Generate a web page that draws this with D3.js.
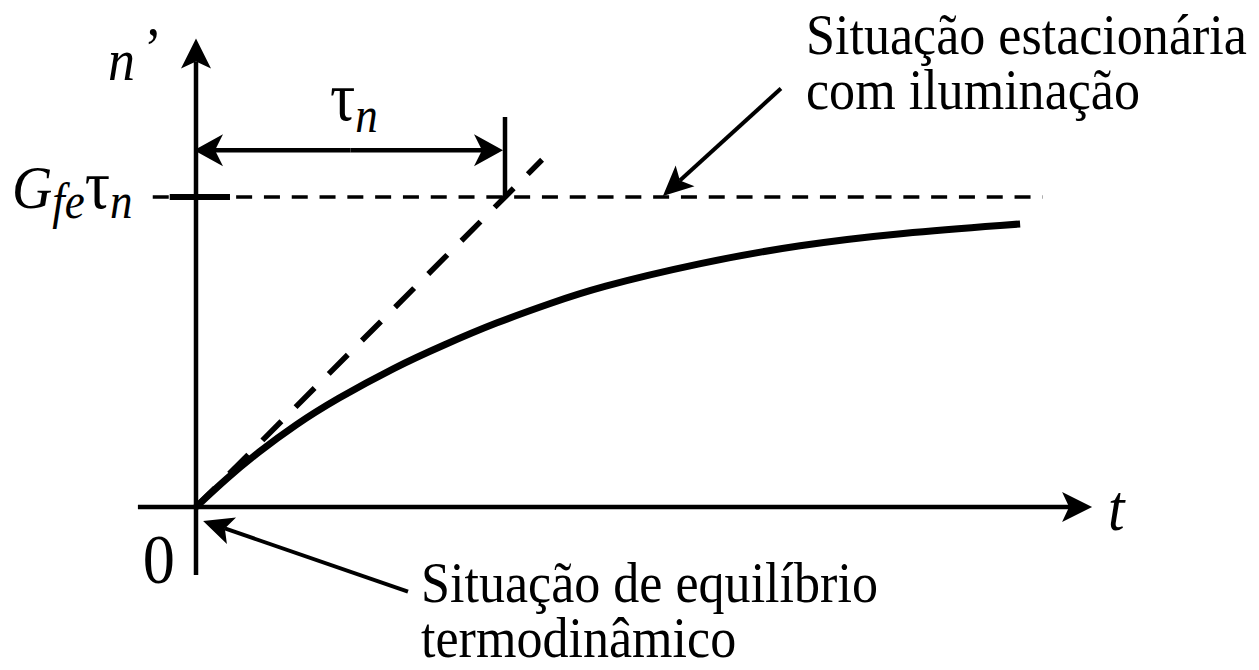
<!DOCTYPE html>
<html>
<head>
<meta charset="utf-8">
<script src="https://cdn.jsdelivr.net/npm/d3@7"></script>
<style>
  body { margin: 0; background: #fff; }
  svg { display: block; }
  text { font-family: "Liberation Serif", "Times New Roman", serif; fill: #000; }
</style>
</head>
<body>
<svg id="chart" width="1259" height="670"></svg>
<script>
// n'(t): excess carriers after the light is switched on.
// t is in units of τn, n' in units of Gfe·τn.
const curveT = [0, 0.1, 0.2, 0.324, 0.45, 0.647, 0.8, 0.971, 1.15, 1.294, 1.631, 1.955, 2.278, 2.667];
const curveN = [0, 0.093, 0.176, 0.267, 0.346, 0.453, 0.522, 0.595, 0.658, 0.707, 0.788, 0.846, 0.884, 0.913];

// initial slope (tangent at the origin)
const tangentT = [0, 1.12];
const tangentN = [0, 1.12];

// steady state level and the time constant
const steadyLevel = 1;
const steadyT = [-0.14, 2.74];
const tauValue = 1;

// axis extents
const tAxis = [-0.188, 2.9];
const nAxis = [-0.219, 1.511];

// labels
const yLabel = "n";
const xLabel = "t";
const originLabel = "0";
const noteSteady = ["Situação estacionária", "com iluminação"];
const noteEquilibrium = ["Situação de equilíbrio", "termodinâmico"];

const svg = d3.select("#chart");
svg.append("rect").attr("width", 1259).attr("height", 670).attr("fill", "#fff");

const x = d3.scaleLinear().domain([0, 1]).range([196, 505]);
const y = d3.scaleLinear().domain([0, 1]).range([507, 197]);

const g = svg.append("g");

// straight line ending in a filled, notched arrowhead
function arrow(x1, y1, x2, y2, w, len, half, notch) {
  const a = Math.atan2(y2 - y1, x2 - x1);
  const cut = len - notch;
  g.append("line")
    .attr("x1", x1).attr("y1", y1)
    .attr("x2", x2 - Math.cos(a) * cut).attr("y2", y2 - Math.sin(a) * cut)
    .attr("stroke", "#000").attr("stroke-width", w);
  const deg = a * 180 / Math.PI;
  g.append("path")
    .attr("d", `M0,0 L${-len},${-half} L${-len + notch},0 L${-len},${half} Z`)
    .attr("transform", `translate(${x2},${y2}) rotate(${deg})`)
    .attr("fill", "#000");
}

// axes
arrow(x(tAxis[0]), y(0), x(tAxis[1]), y(0), 4.5, 30, 15, 7);
arrow(x(0), y(nAxis[0]), x(0), y(nAxis[1]), 4.5, 30, 15, 7);

// steady-state dashed level
g.append("line")
  .attr("x1", x(steadyT[0])).attr("x2", x(steadyT[1]))
  .attr("y1", y(steadyLevel)).attr("y2", y(steadyLevel))
  .attr("stroke", "#000").attr("stroke-width", 3.5)
  .attr("stroke-dasharray", "16,11.8");

// level tick on the n' axis
g.append("line")
  .attr("x1", x(-0.085)).attr("x2", x(0.11))
  .attr("y1", y(steadyLevel)).attr("y2", y(steadyLevel))
  .attr("stroke", "#000").attr("stroke-width", 6);

// tangent at the origin
g.append("line")
  .attr("x1", x(tangentT[0])).attr("y1", y(tangentN[0]))
  .attr("x2", x(tangentT[1])).attr("y2", y(tangentN[1]))
  .attr("stroke", "#000").attr("stroke-width", 5.5)
  .attr("stroke-dasharray", "27,20");

// τn marker and dimension arrow
g.append("line")
  .attr("x1", x(tauValue)).attr("x2", x(tauValue))
  .attr("y1", y(1.258)).attr("y2", y(steadyLevel))
  .attr("stroke", "#000").attr("stroke-width", 4.5);
const dimY = y(1.151);
const mid = (x(0) + x(tauValue)) / 2;
arrow(mid, dimY, x(tauValue) - 2, dimY, 4.5, 29, 16, 8);
arrow(mid, dimY, x(0) - 2, dimY, 4.5, 29, 16, 8);

// response curve
const line = d3.line()
  .x(d => x(d[0])).y(d => y(d[1]))
  .curve(d3.curveBasis);
g.append("path")
  .datum(curveT.map((t, i) => [t, curveN[i]]))
  .attr("d", line)
  .attr("fill", "none").attr("stroke", "#000").attr("stroke-width", 7);

// callout arrows
arrow(x(1.893), y(1.350), x(1.511), y(1.003), 4, 30, 14, 7);
arrow(x(0.686), y(-0.273), x(0.023), y(-0.045), 4, 30, 14, 7);

// text placed at (px, py), narrowed horizontally by sx
function label(px, py, size, sx, anchor) {
  return svg.append("text")
    .attr("transform", `translate(${px},${py}) scale(${sx},1)`)
    .attr("font-size", size)
    .attr("text-anchor", anchor || "start");
}

// axis labels
const nl = label(108, 80, 60, 0.9);
nl.append("tspan").attr("font-style", "italic").text(yLabel);
nl.append("tspan").attr("dx", 10).attr("dy", -12).text("’");

label(1108, 530, 66, 0.9).attr("font-style", "italic").text(xLabel);

label(175, 583, 70, 0.92, "end").text(originLabel);

// level label Gfe τn
const gl = label(12, 208, 62, 0.9);
gl.append("tspan").attr("font-style", "italic").text("G");
gl.append("tspan").attr("font-style", "italic").attr("font-size", 50).attr("dy", 10).text("fe");
gl.append("tspan").attr("dy", -10).attr("font-size", 70).text("τ");
gl.append("tspan").attr("font-style", "italic").attr("font-size", 50).attr("dy", 10).text("n");

// τn label above the dimension arrow
const tl = label(330, 120, 70, 0.9);
tl.append("tspan").text("τ");
tl.append("tspan").attr("font-style", "italic").attr("font-size", 50).attr("dy", 12).text("n");

// notes
noteSteady.forEach((s, i) => {
  label(806, 54 + i * 55, 56, 0.93).text(s);
});
noteEquilibrium.forEach((s, i) => {
  label(421, 602 + i * 55, 56, 0.93).text(s);
});
</script>
</body>
</html>
